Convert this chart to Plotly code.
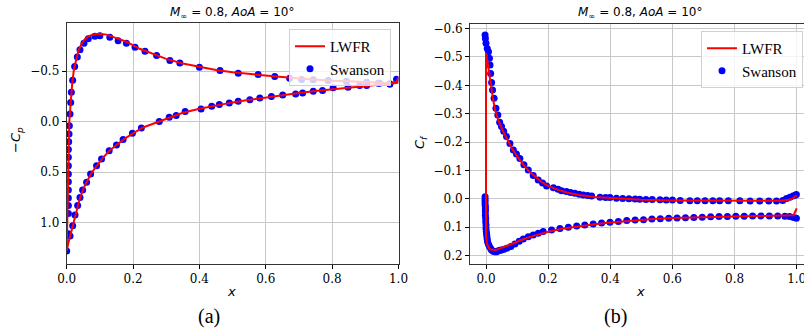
import plotly.graph_objects as go

# ---------------- (a) pressure coefficient, -Cp ----------------
cp_lwfr_lower_x = [0.0, 0.005, 0.01, 0.015, 0.02, 0.03, 0.04, 0.05, 0.06, 0.075,
                   0.09, 0.11, 0.13, 0.15, 0.175, 0.2, 0.23, 0.26, 0.3, 0.35,
                   0.4, 0.45, 0.5, 0.55, 0.6, 0.65, 0.7, 0.75, 0.8, 0.85,
                   0.9, 0.95, 0.98, 1.0]
cp_lwfr_lower_y = [1.28, 1.2, 1.135, 1.075, 1.01, 0.875, 0.755, 0.665, 0.6, 0.505,
                   0.436, 0.355, 0.285, 0.231, 0.168, 0.116, 0.058, 0.02, -0.03, -0.088,
                   -0.127, -0.16, -0.19, -0.215, -0.24, -0.262, -0.283, -0.303, -0.322, -0.34,
                   -0.355, -0.37, -0.377, -0.383]
cp_lwfr_upper_x = [0.0, 0.001, 0.002, 0.003, 0.004, 0.005, 0.006, 0.008, 0.01, 0.013,
                   0.017, 0.022, 0.028, 0.035, 0.045, 0.055, 0.065, 0.08, 0.1, 0.12,
                   0.15, 0.18, 0.22, 0.26, 0.3, 0.35, 0.4, 0.45, 0.5, 0.55,
                   0.6, 0.65, 0.7, 0.75, 0.8, 0.85, 0.9, 0.95, 0.98, 0.995,
                   1.0]
cp_lwfr_upper_y = [1.28, 1.1, 0.9, 0.7, 0.5, 0.3, 0.15, 0.0, -0.1, -0.24,
                   -0.39, -0.52, -0.62, -0.7, -0.77, -0.815, -0.843, -0.862, -0.868, -0.86,
                   -0.825, -0.79, -0.72, -0.67, -0.62, -0.575, -0.54, -0.51, -0.487, -0.469,
                   -0.455, -0.44, -0.426, -0.414, -0.405, -0.398, -0.39, -0.383, -0.379, -0.40,
                   -0.44]

cp_swanson_upper_x = [0.0, 0.005, 0.005, 0.005, 0.005, 0.005, 0.005, 0.005, 0.005, 0.005,
                      0.005, 0.006, 0.007, 0.008, 0.010, 0.012, 0.014, 0.018, 0.024, 0.032,
                      0.04, 0.052, 0.065, 0.085, 0.10, 0.13, 0.155, 0.18, 0.206, 0.236,
                      0.271, 0.311, 0.341, 0.40, 0.462, 0.517, 0.577, 0.627, 0.672, 0.708,
                      0.743, 0.788, 0.843, 0.904, 0.943, 0.974, 0.994]
cp_swanson_upper_y = [1.28, 1.11, 0.908, 0.83, 0.755, 0.676, 0.594, 0.518, 0.436, 0.353,
                      0.277, 0.198, 0.122, 0.04, -0.076, -0.19, -0.29, -0.41, -0.545, -0.64,
                      -0.71, -0.775, -0.82, -0.845, -0.85, -0.835, -0.80, -0.775, -0.735, -0.696,
                      -0.653, -0.604, -0.58, -0.538, -0.505, -0.478, -0.465, -0.446, -0.429, -0.416,
                      -0.413, -0.406, -0.40, -0.39, -0.38, -0.373, -0.42]
cp_swanson_lower_x = [0.01, 0.018, 0.025, 0.033, 0.04, 0.048, 0.06, 0.072, 0.09, 0.105,
                      0.128, 0.15, 0.17, 0.198, 0.225, 0.279, 0.309, 0.33, 0.357, 0.405,
                      0.437, 0.46, 0.49, 0.517, 0.552, 0.582, 0.617, 0.651, 0.69, 0.711,
                      0.743, 0.771, 0.803, 0.848, 0.883, 0.904, 0.939, 0.974]
cp_swanson_lower_y = [1.13, 1.03, 0.924, 0.83, 0.75, 0.676, 0.60, 0.518, 0.436, 0.37,
                      0.287, 0.231, 0.178, 0.116, 0.063, 0.0, -0.043, -0.06, -0.099, -0.125,
                      -0.152, -0.168, -0.185, -0.201, -0.215, -0.234, -0.248, -0.264, -0.274, -0.284,
                      -0.30, -0.307, -0.334, -0.34, -0.356, -0.356, -0.379, -0.373]

# ---------------- (b) skin friction, Cf ----------------
cf_lwfr_lower_x = [0.0, 0.003, 0.008, 0.015, 0.022, 0.03, 0.04, 0.05, 0.067, 0.08,
                   0.1, 0.12, 0.15, 0.18, 0.21, 0.25, 0.3, 0.35, 0.4, 0.45,
                   0.5, 0.55, 0.6, 0.65, 0.7, 0.75, 0.8, 0.85, 0.9, 0.95,
                   0.99, 1.0]
cf_lwfr_lower_y = [0.13, 0.158, 0.172, 0.179, 0.181, 0.181, 0.178, 0.174, 0.168, 0.162,
                   0.152, 0.143, 0.132, 0.122, 0.114, 0.105, 0.097, 0.09, 0.084, 0.079,
                   0.075, 0.071, 0.068, 0.066, 0.064, 0.063, 0.062, 0.061, 0.06, 0.059,
                   0.058, 0.034]
cf_lwfr_upper_x = [0.0, 0.004, 0.007, 0.012, 0.017, 0.023, 0.03, 0.04, 0.056, 0.07,
                   0.083, 0.1, 0.12, 0.14, 0.16, 0.18, 0.2, 0.23, 0.26, 0.3,
                   0.35, 0.4, 0.45, 0.5, 0.6, 0.7, 0.8, 0.9, 0.95, 0.975,
                   0.99, 1.0]
cf_lwfr_upper_y = [-0.513, -0.49, -0.466, -0.43, -0.395, -0.348, -0.31, -0.275, -0.235, -0.205,
                   -0.178, -0.15, -0.12, -0.095, -0.075, -0.058, -0.045, -0.032, -0.022, -0.013,
                   -0.006, -0.002, 0.002, 0.004, 0.006, 0.007, 0.008, 0.008, 0.007, 0.004,
                   -0.003, -0.012]

cf_swanson_upper_x = [-0.003, -0.002, 0.0, 0.004, 0.008, 0.011, 0.013, 0.015, 0.018, 0.021,
                      0.026, 0.032, 0.038, 0.044, 0.05, 0.057, 0.066, 0.077, 0.088, 0.098,
                      0.109, 0.122, 0.136, 0.152, 0.168, 0.182, 0.195, 0.217, 0.232, 0.243,
                      0.259, 0.272, 0.286, 0.3, 0.313, 0.327, 0.34, 0.367, 0.385, 0.399,
                      0.42, 0.44, 0.46, 0.48, 0.495, 0.515, 0.535, 0.56, 0.58, 0.6,
                      0.625, 0.656, 0.68, 0.705, 0.73, 0.752, 0.78, 0.817, 0.85, 0.881,
                      0.91, 0.935, 0.955, 0.967, 0.978, 0.988, 0.995, 0.999]
cf_swanson_upper_y = [-0.577, -0.565, -0.548, -0.53, -0.518, -0.495, -0.472, -0.442, -0.41, -0.383,
                      -0.354, -0.319, -0.295, -0.27, -0.255, -0.238, -0.219, -0.195, -0.172, -0.158,
                      -0.142, -0.12, -0.101, -0.082, -0.066, -0.055, -0.045, -0.039, -0.033, -0.028,
                      -0.025, -0.022, -0.019, -0.016, -0.013, -0.011, -0.0095, -0.005, -0.004, -0.004,
                      -0.002, -0.001, 0.0, 0.001, 0.002, 0.003, 0.003, 0.004, 0.005, 0.005,
                      0.006, 0.007, 0.007, 0.007, 0.007, 0.007, 0.007, 0.007, 0.008, 0.008,
                      0.008, 0.008, 0.006, -0.001, -0.005, -0.0095, -0.012, -0.015]
cf_swanson_lower_x = [-0.003, -0.003, -0.003, -0.003, -0.002, -0.002, -0.002, -0.002, -0.001, -0.001,
                      0.0, 0.0, 0.001, 0.002, 0.003, 0.004, 0.005, 0.008, 0.011, 0.015,
                      0.018, 0.023, 0.029, 0.034, 0.04, 0.045, 0.05, 0.058,
                      0.067, 0.08, 0.093, 0.107, 0.12, 0.136, 0.152, 0.168, 0.184, 0.211,
                      0.238, 0.265, 0.292, 0.318, 0.345, 0.372, 0.399, 0.426, 0.453, 0.48,
                      0.507, 0.534, 0.561, 0.588, 0.615, 0.642, 0.669, 0.696, 0.723, 0.75,
                      0.777, 0.804, 0.831, 0.858, 0.885, 0.912, 0.939, 0.962, 0.977, 0.99,
                      0.999]
cf_swanson_lower_y = [-0.007, 0.003, 0.011, 0.02, 0.028, 0.037, 0.046, 0.058, 0.069, 0.081,
                      0.093, 0.105, 0.116, 0.125, 0.134, 0.143, 0.152, 0.161, 0.169, 0.176,
                      0.181, 0.185, 0.187, 0.187, 0.184, 0.182, 0.181, 0.178,
                      0.175, 0.169, 0.16, 0.15, 0.142, 0.134, 0.128, 0.122, 0.116, 0.11,
                      0.105, 0.101, 0.096, 0.093, 0.089, 0.086, 0.083, 0.08, 0.077, 0.075,
                      0.074, 0.072, 0.071, 0.069, 0.068, 0.067, 0.066, 0.065, 0.064, 0.063,
                      0.063, 0.062, 0.062, 0.061, 0.061, 0.061, 0.061, 0.062, 0.063, 0.066,
                      0.069]

x_ticks = [0.0, 0.2, 0.4, 0.6, 0.8, 1.0]
cp_ticks = [-0.5, 0.0, 0.5, 1.0]
cf_ticks = [-0.6, -0.5, -0.4, -0.3, -0.2, -0.1, 0.0, 0.1, 0.2]

TITLE = "<i>M</i><sub>∞</sub> = 0.8, <i>AoA</i> = 10°"
RED = "#ff0000"
BLUE = "#0000ff"

fig = go.Figure()

# (a) traces
fig.add_trace(go.Scatter(
    x=cp_swanson_upper_x + cp_swanson_lower_x, y=cp_swanson_upper_y + cp_swanson_lower_y,
    mode="markers", marker=dict(color=BLUE, size=7, line=dict(width=0)),
    name="Swanson", legend="legend", legendrank=2, xaxis="x", yaxis="y"))
fig.add_trace(go.Scatter(
    x=cp_lwfr_lower_x[::-1] + cp_lwfr_upper_x, y=cp_lwfr_lower_y[::-1] + cp_lwfr_upper_y,
    mode="lines", line=dict(color=RED, width=2),
    name="LWFR", legend="legend", legendrank=1, xaxis="x", yaxis="y"))

# (b) traces
fig.add_trace(go.Scatter(
    x=cf_swanson_upper_x + cf_swanson_lower_x, y=cf_swanson_upper_y + cf_swanson_lower_y,
    mode="markers", marker=dict(color=BLUE, size=7, line=dict(width=0)),
    name="Swanson", legend="legend2", legendrank=2, xaxis="x2", yaxis="y2"))
fig.add_trace(go.Scatter(
    x=cf_lwfr_lower_x[::-1] + cf_lwfr_upper_x, y=cf_lwfr_lower_y[::-1] + cf_lwfr_upper_y,
    mode="lines", line=dict(color=RED, width=2),
    name="LWFR", legend="legend2", legendrank=1, xaxis="x2", yaxis="y2"))

W, H = 804, 335
tickfont = dict(family="DejaVu Serif", size=12, color="black")
axis_common = dict(showgrid=True, gridcolor="#c8c8c8", gridwidth=1, automargin=False,
                   zeroline=False, showline=True, linecolor="#333333", linewidth=1,
                   mirror=True, ticks="outside", ticklen=4, tickwidth=1, tickcolor="black",
                   tickfont=tickfont, tickformat=".1f", ticklabeloverflow="allow")

legend_common = dict(font=dict(family="Liberation Serif", size=15, color="black"),
                     bgcolor="rgba(255,255,255,0.8)", bordercolor="#d0d0d0", borderwidth=1,
                     traceorder="normal", yanchor="top")

fig.update_layout(
    width=W, height=H, margin=dict(l=0, r=0, t=0, b=0, autoexpand=False),
    paper_bgcolor="white", plot_bgcolor="white",
    xaxis=dict(domain=[66.7 / W, 398.5 / W], range=[0.0, 1.0], tickvals=x_ticks,
               anchor="y", **axis_common),
    yaxis=dict(domain=[1 - 264 / H, 1 - 22.7 / H], range=[1.408, -0.978], tickvals=cp_ticks,
               anchor="x", **axis_common),
    xaxis2=dict(domain=[470 / W, 1.0], range=[-0.0515, 1.0235], tickvals=x_ticks,
                anchor="y2", **axis_common),
    yaxis2=dict(domain=[1 - 264 / H, 1 - 24 / H], range=[0.2303, -0.6162], tickvals=cf_ticks,
                anchor="x2", **axis_common),
    legend=dict(x=391 / W, xanchor="right", y=1 - 29 / H, **legend_common),
    legend2=dict(x=701 / W, xanchor="left", y=1 - 31 / H, **legend_common),
    showlegend=True,
)

ann_font = dict(family="DejaVu Sans", size=12, color="black")
annotations = [
    dict(text=TITLE, x=232 / W, y=1 - 13 / H, font=ann_font),
    dict(text=TITLE, x=639.5 / W, y=1 - 13 / H, font=ann_font),
    dict(text="−<i>C</i><sub><i>p</i></sub>", x=16 / W, y=1 - 140 / H, textangle=-90,
         font=dict(family="DejaVu Sans", size=13, color="black")),
    dict(text="<i>C</i><sub><i>f</i></sub>", x=421 / W, y=1 - 142 / H, textangle=-90,
         font=dict(family="DejaVu Sans", size=13, color="black")),
    dict(text="<i>x</i>", x=231 / W, y=1 - 291.5 / H, font=dict(family="DejaVu Sans", size=13, color="black")),
    dict(text="<i>x</i>", x=640 / W, y=1 - 291.5 / H, font=dict(family="DejaVu Sans", size=13, color="black")),
    dict(text="(a)", x=208.7 / W, y=1 - 316.7 / H, font=dict(family="Liberation Serif", size=20, color="black")),
    dict(text="(b)", x=615 / W, y=1 - 316.7 / H, font=dict(family="Liberation Serif", size=20, color="black")),
]
for a in annotations:
    a.update(xref="paper", yref="paper", showarrow=False, xanchor="center", yanchor="middle")
fig.update_layout(annotations=annotations)

fig.write_html("out.html", config={"displayModeBar": False},
               post_script="document.body.style.margin='0';document.body.style.overflow='hidden';")
